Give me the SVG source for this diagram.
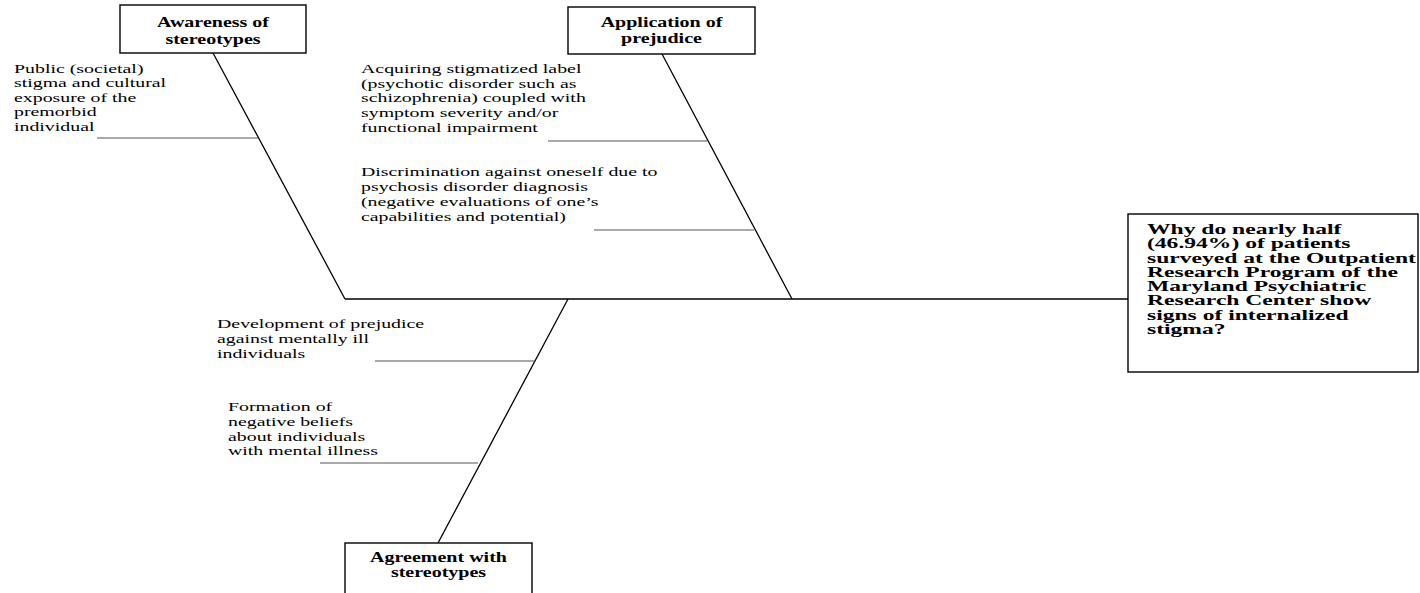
<svg xmlns="http://www.w3.org/2000/svg" width="1420" height="593" viewBox="0 0 1420 593">
<style>
.box{fill:#fff;stroke:#000;stroke-width:1.4}
.bone{stroke:#000;stroke-width:1.3;fill:none}
.sub{stroke:#555;stroke-width:1.2;fill:none}
.t{font-family:"Liberation Serif","Times New Roman",serif;font-size:13.5px;fill:#000}
.h{font-family:"Liberation Serif","Times New Roman",serif;font-size:14px;font-weight:bold;fill:#000;text-anchor:middle}
.q{font-family:"Liberation Serif","Times New Roman",serif;font-size:15.5px;font-weight:bold;fill:#000}
</style>
<rect width="1420" height="593" fill="#fff"/>
<g id="connectors">
<line class="bone" x1="345" y1="299" x2="1128" y2="299"/>
<line class="bone" x1="213" y1="53" x2="345" y2="299"/>
<line class="bone" x1="662" y1="54" x2="792" y2="299"/>
<line class="bone" x1="568" y1="299" x2="438" y2="543"/>
<line class="sub" x1="97" y1="138" x2="258" y2="138"/>
<line class="sub" x1="548" y1="141" x2="707" y2="141"/>
<line class="sub" x1="594" y1="230" x2="754" y2="230"/>
<line class="sub" x1="375" y1="361" x2="535" y2="361"/>
<line class="sub" x1="320" y1="463" x2="478" y2="463"/>
</g>
<g id="awareness">
<rect class="box" x="120" y="5" width="186" height="48"/>
<text class="h" transform="translate(213,27) scale(1.43,1)"><tspan x="0" y="0">Awareness of</tspan><tspan x="0" y="17">stereotypes</tspan></text>
</g>
<g id="application">
<rect class="box" x="568" y="7" width="187" height="47"/>
<text class="h" transform="translate(661.5,27) scale(1.43,1)"><tspan x="0" y="0">Application of</tspan><tspan x="0" y="16">prejudice</tspan></text>
</g>
<g id="agreement">
<rect class="box" x="345" y="543" width="187" height="60"/>
<text class="h" transform="translate(438.5,562) scale(1.43,1)"><tspan x="0" y="0">Agreement with</tspan><tspan x="0" y="15.5">stereotypes</tspan></text>
</g>
<g id="problem">
<rect class="box" x="1128" y="214" width="290" height="158"/>
<text class="q" transform="translate(1147,234) scale(1.52,1)"><tspan x="0" y="0">Why do nearly half</tspan><tspan x="0" y="14.3">(46.94%) of patients</tspan><tspan x="0" y="28.6">surveyed at the Outpatient</tspan><tspan x="0" y="42.9">Research Program of the</tspan><tspan x="0" y="57.2">Maryland Psychiatric</tspan><tspan x="0" y="71.5">Research Center show</tspan><tspan x="0" y="85.8">signs of internalized</tspan><tspan x="0" y="100.1">stigma?</tspan></text>
</g>
<g id="cause-public">
<text class="t" transform="translate(14,73) scale(1.47,1)"><tspan x="0" y="0">Public (societal)</tspan><tspan x="0" y="14.5">stigma and cultural</tspan><tspan x="0" y="29">exposure of the</tspan><tspan x="0" y="43.5">premorbid</tspan><tspan x="0" y="58">individual</tspan></text>
</g>
<g id="cause-label">
<text class="t" transform="translate(361,73) scale(1.47,1)"><tspan x="0" y="0">Acquiring stigmatized label</tspan><tspan x="0" y="14.75">(psychotic disorder such as</tspan><tspan x="0" y="29.5">schizophrenia) coupled with</tspan><tspan x="0" y="44.25">symptom severity and/or</tspan><tspan x="0" y="59">functional impairment</tspan></text>
</g>
<g id="cause-discrimination">
<text class="t" transform="translate(361,176) scale(1.47,1)"><tspan x="0" y="0">Discrimination against oneself due to</tspan><tspan x="0" y="15">psychosis disorder diagnosis</tspan><tspan x="0" y="30">(negative evaluations of one’s</tspan><tspan x="0" y="45">capabilities and potential)</tspan></text>
</g>
<g id="cause-development">
<text class="t" transform="translate(217,328) scale(1.47,1)"><tspan x="0" y="0">Development of prejudice</tspan><tspan x="0" y="15">against mentally ill</tspan><tspan x="0" y="30">individuals</tspan></text>
</g>
<g id="cause-formation">
<text class="t" transform="translate(228,411) scale(1.47,1)"><tspan x="0" y="0">Formation of</tspan><tspan x="0" y="14.8">negative beliefs</tspan><tspan x="0" y="29.6">about individuals</tspan><tspan x="0" y="44.4">with mental illness</tspan></text>
</g>
</svg>
